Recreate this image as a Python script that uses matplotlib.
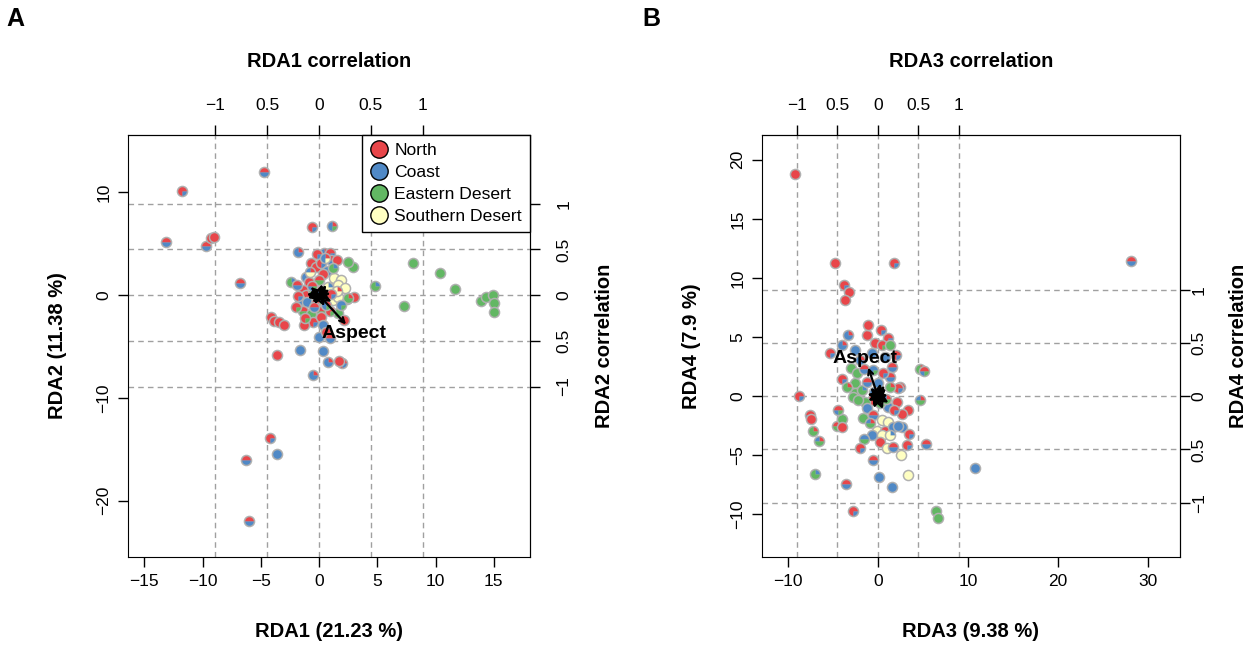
import numpy as np
import matplotlib.pyplot as plt
from matplotlib.lines import Line2D

plt.rcParams['font.family'] = ['Liberation Sans', 'DejaVu Sans']

groups = ['North', 'Coast', 'Eastern Desert', 'Southern Desert']
group_colors = ['#E8464A', '#5089C6', '#62B763', '#FFFFC2']

corr_ticks = [-1, -0.5, 0, 0.5, 1]
corr_labels = ['\u22121', '0.5', '0', '0.5', '1']

# site scores: x, y, then shares of North, Coast, Eastern Desert, Southern Desert
sites_a = np.array([
    (-11.8, 10.1, 3, 1, 0, 0), (-13.1, 5.2, 2, 2, 0, 0), (-9.7, 4.8, 2, 2, 0, 0),
    (-9.3, 5.6, 3, 1, 0, 0), (-9.0, 5.7, 4, 0, 0, 0), (-4.7, 12.0, 2, 2, 0, 0),
    (-6.8, 1.2, 2, 2, 0, 0), (-1.8, 4.2, 1, 3, 0, 0), (-2.4, 1.3, 0, 1, 3, 0),
    (-4.1, -2.1, 4, 0, 0, 0), (-3.9, -2.5, 4, 0, 0, 0), (-3.4, -2.6, 3, 1, 0, 0),
    (-3.0, -2.9, 4, 0, 0, 0), (-3.6, -5.8, 4, 0, 0, 0), (-1.6, -5.3, 0, 4, 0, 0),
    (-0.5, -7.8, 1, 3, 0, 0), (-4.2, -13.9, 3, 1, 0, 0), (-3.6, -15.5, 0, 4, 0, 0),
    (-6.3, -16.1, 2, 2, 0, 0), (-6.0, -22.0, 2, 2, 0, 0), (-0.6, 6.6, 3, 1, 0, 0),
    (1.1, 6.7, 1, 2, 1, 0), (2.9, 2.7, 0, 0, 4, 0), (8.1, 3.1, 0, 0, 4, 0),
    (10.4, 2.2, 0, 0, 4, 0), (4.8, 0.9, 0, 1, 3, 0), (11.7, 0.6, 0, 0, 4, 0),
    (7.3, -1.1, 0, 0, 4, 0), (13.9, -0.6, 0, 0, 4, 0), (14.3, -0.2, 0, 0, 4, 0),
    (14.9, 0.0, 0, 0, 4, 0), (15.0, -0.8, 0, 0, 4, 0), (15.0, -1.6, 0, 0, 4, 0),
    (3.0, -0.2, 4, 0, 0, 0), (2.4, -0.4, 1, 0, 3, 0), (1.6, -1.7, 0, 0, 4, 0),
    (2.1, -2.4, 4, 0, 0, 0), (0.8, -6.5, 1, 3, 0, 0), (2.0, -6.6, 3, 1, 0, 0),
    (1.7, -6.4, 4, 0, 0, 0), (0.0, -4.1, 0, 4, 0, 0), (0.3, -5.4, 0, 4, 0, 0),
    (0.4, 4.1, 1, 3, 0, 0), (0.9, 4.1, 3, 1, 0, 0), (-0.7, 3.1, 4, 0, 0, 0),
    (-0.3, 2.7, 4, 0, 0, 0), (0.2, 3.1, 3, 1, 0, 0), (1.0, 3.4, 2, 2, 0, 0),
    (1.5, 3.4, 4, 0, 0, 0), (0.7, 2.4, 0, 4, 0, 0), (0.3, 2.1, 4, 0, 0, 0),
    (1.3, 1.7, 0, 0, 0, 4), (1.9, 1.5, 0, 0, 0, 4), (1.6, 1.0, 0, 0, 0, 4),
    (2.2, 0.7, 0, 0, 0, 4), (-1.1, 1.8, 1, 3, 0, 0), (-0.9, 1.3, 4, 0, 0, 0),
    (0.0, 1.5, 2, 0, 2, 0), (-1.4, 0.5, 4, 0, 0, 0), (-1.1, 0.0, 4, 0, 0, 0),
    (-0.5, 0.5, 0, 0, 4, 0), (-1.6, -0.5, 2, 2, 0, 0), (-1.0, -0.7, 0, 4, 0, 0),
    (-0.3, -0.8, 4, 0, 0, 0), (0.4, -0.7, 0, 0, 4, 0), (1.2, -0.5, 0, 0, 0, 4),
    (1.6, -0.2, 0, 0, 0, 4), (2.5, -0.3, 1, 0, 3, 0), (-1.4, -1.5, 2, 0, 2, 0),
    (-0.7, -1.8, 0, 0, 4, 0), (0.2, -1.5, 2, 0, 2, 0), (0.9, -1.5, 3, 0, 1, 0),
    (-0.5, -2.6, 3, 1, 0, 0), (0.2, -2.1, 4, 0, 0, 0), (-1.3, -2.9, 4, 0, 0, 0),
    (0.3, -2.9, 0, 4, 0, 0), (0.6, -3.6, 4, 0, 0, 0), (0.9, -4.2, 2, 2, 0, 0),
    (2.5, 3.2, 0, 0, 4, 0), (1.2, 2.6, 0, 1, 3, 0), (-0.2, 4.0, 3, 1, 0, 0),
    (0.5, 3.6, 1, 2, 0, 1), (-1.9, 1.0, 2, 2, 0, 0), (-1.8, -0.1, 3, 1, 0, 0),
    (-0.8, 2.3, 1, 1, 0, 2), (0.8, 0.8, 0, 1, 0, 3), (1.5, 0.4, 1, 0, 0, 3),
    (-1.2, -2.2, 3, 0, 1, 0), (0.6, -1.0, 1, 2, 1, 0), (-0.4, -1.2, 2, 2, 0, 0),
    (1.9, -1.0, 0, 3, 1, 0), (-2.0, -1.2, 3, 0, 1, 0), (0.1, 0.4, 2, 2, 0, 0),
    (-0.6, 0.9, 2, 1, 1, 0), (1.0, 0.1, 3, 1, 0, 0),
])

sites_b = np.array([
    (-9.2, 18.8, 4, 0, 0, 0), (-4.8, 11.3, 4, 0, 0, 0), (1.8, 11.3, 3, 1, 0, 0),
    (-3.8, 9.4, 3, 1, 0, 0), (-3.2, 8.8, 4, 0, 0, 0), (-3.7, 8.1, 4, 0, 0, 0),
    (28.1, 11.4, 2, 2, 0, 0), (-8.8, 0.0, 3, 1, 0, 0), (-7.6, -1.6, 2, 2, 0, 0),
    (-7.4, -1.9, 4, 0, 0, 0), (-7.2, -2.9, 1, 0, 3, 0), (-6.6, -3.8, 1, 1, 2, 0),
    (-7.0, -6.6, 0, 1, 3, 0), (-4.6, -2.5, 2, 0, 2, 0), (-4.0, -1.9, 0, 0, 4, 0),
    (-4.0, -2.6, 4, 0, 0, 0), (-3.6, -7.4, 2, 2, 0, 0), (-2.8, -9.7, 3, 1, 0, 0),
    (-0.6, -5.4, 2, 2, 0, 0), (0.1, -6.8, 0, 4, 0, 0), (1.6, -7.7, 0, 4, 0, 0),
    (3.3, -6.7, 0, 0, 0, 4), (3.2, -4.1, 3, 1, 0, 0), (5.3, -4.0, 2, 2, 0, 0),
    (4.7, -0.3, 1, 1, 2, 0), (4.7, 2.3, 1, 0, 3, 0), (5.1, 2.1, 2, 1, 1, 0),
    (6.5, -9.7, 0, 0, 4, 0), (6.7, -10.3, 0, 0, 4, 0), (2.6, -5.0, 0, 0, 0, 4),
    (10.8, -6.1, 0, 4, 0, 0), (2.4, 0.8, 2, 2, 0, 0), (3.3, -1.2, 4, 0, 0, 0),
    (2.7, -1.5, 4, 0, 0, 0), (2.7, -2.6, 0, 4, 0, 0),
    (-1.2, 5.2, 4, 0, 0, 0), (1.1, 4.9, 3, 1, 0, 0), (-3.3, 5.2, 1, 3, 0, 0),
    (-4.0, 4.3, 1, 3, 0, 0), (-5.3, 3.7, 3, 1, 0, 0), (-0.3, 4.5, 4, 0, 0, 0),
    (0.4, 4.3, 3, 0, 1, 0), (1.3, 4.3, 0, 0, 4, 0), (-0.7, 3.7, 0, 4, 0, 0),
    (-2.0, 3.1, 1, 3, 0, 0), (0.8, 3.3, 0, 4, 0, 0), (1.6, 2.5, 2, 2, 0, 0),
    (-4.0, 1.5, 3, 1, 0, 0), (-2.6, 1.1, 0, 0, 4, 0), (-2.6, 0.3, 0, 0, 4, 0),
    (-1.8, 0.5, 0, 1, 3, 0), (-1.2, 1.2, 2, 2, 0, 0), (0.0, 1.1, 0, 4, 0, 0),
    (1.3, 1.6, 2, 2, 0, 0), (2.2, 0.7, 3, 1, 0, 0), (1.3, 0.8, 1, 0, 3, 0),
    (2.1, -0.5, 4, 0, 0, 0), (1.1, -0.9, 0, 4, 0, 0), (0.2, -0.6, 0, 0, 4, 0),
    (-0.7, -0.3, 4, 0, 0, 0), (-1.4, -0.5, 0, 0, 4, 0), (-1.2, -1.0, 0, 4, 0, 0),
    (-1.7, -1.8, 0, 0, 4, 0), (-0.6, -1.6, 2, 2, 0, 0), (0.4, -2.0, 0, 0, 0, 4),
    (1.1, -2.2, 0, 0, 0, 4), (-0.1, -2.9, 0, 0, 0, 4), (0.8, -2.9, 2, 2, 0, 0),
    (1.7, -2.6, 0, 4, 0, 0), (2.2, -2.5, 0, 4, 0, 0), (-0.7, -3.3, 0, 4, 0, 0),
    (0.4, -3.3, 0, 0, 0, 4), (1.3, -3.3, 0, 1, 0, 3), (0.2, -3.9, 4, 0, 0, 0),
    (1.0, -4.4, 0, 0, 0, 4), (1.7, -4.3, 2, 2, 0, 0), (-2.8, -0.1, 0, 0, 4, 0),
    (-2.2, -0.3, 0, 0, 4, 0), (-1.1, 6.0, 4, 0, 0, 0), (-3.0, 2.4, 0, 0, 4, 0),
    (-2.3, 2.0, 0, 0, 4, 0), (-1.5, 2.3, 2, 2, 0, 0), (-0.5, 2.2, 0, 3, 1, 0),
    (0.6, 2.0, 3, 1, 0, 0), (-3.4, 0.8, 1, 0, 3, 0), (-0.4, 0.4, 1, 2, 1, 0),
    (0.9, -0.2, 1, 1, 2, 0), (1.8, -1.2, 3, 1, 0, 0), (-0.9, -2.3, 1, 1, 2, 0),
    (2.0, 3.5, 3, 1, 0, 0), (-2.5, 3.9, 0, 4, 0, 0), (0.3, 5.6, 3, 1, 0, 0),
    (-4.4, -1.2, 2, 1, 1, 0), (3.5, -3.2, 3, 1, 0, 0), (-1.6, -3.6, 0, 2, 2, 0),
    (-2.0, -4.4, 3, 1, 0, 0),
])

# environmental correlations (first one is Aspect)
env_a_x = [0.26, 0.10, -0.08, 0.05, -0.11, 0.12, -0.04, 0.07, -0.09, 0.03, 0.11, -0.06, 0.08, -0.12, 0.02]
env_a_y = [-0.32, 0.06, 0.09, -0.12, -0.03, -0.07, -0.10, 0.11, 0.04, 0.12, 0.02, -0.08, -0.04, 0.01, -0.06]
env_b_x = [-0.12, 0.10, -0.09, 0.06, -0.12, 0.13, -0.05, 0.08, -0.10, 0.03, 0.12, -0.06, 0.09, -0.13, 0.02]
env_b_y = [0.27, 0.07, 0.08, -0.12, -0.04, -0.06, -0.11, 0.10, 0.03, 0.12, 0.01, -0.09, -0.05, 0.02, -0.07]
env_label = 'Aspect'


def draw_pies(ax, sites, size=38):
    x, y = sites[:, 0], sites[:, 1]
    shares = sites[:, 2:] / sites[:, 2:].sum(axis=1, keepdims=True)
    for i in range(len(sites)):
        z = 3 + i * 0.01
        ax.scatter(x[i], y[i], s=70, color='#B0B0B0', lw=0, zorder=z)
        start = 0.0
        for g in range(4):
            frac = shares[i, g]
            if frac <= 0:
                continue
            if frac > 0.999:
                ax.scatter(x[i], y[i], s=size, color=group_colors[g], lw=0, zorder=z + 0.001)
                break
            theta = np.linspace(2 * np.pi * start, 2 * np.pi * (start + frac), 30)
            verts = np.column_stack([np.r_[0, np.cos(theta), 0], np.r_[0, np.sin(theta), 0]])
            k = np.abs(verts).max()
            ax.scatter(x[i], y[i], marker=verts, s=size * k ** 2, color=group_colors[g],
                       lw=0, zorder=z + 0.001)
            start += frac


def draw_env(ax, ex, ey, scale):
    for cx, cy in zip(ex, ey):
        ax.annotate('', xy=(cx * scale, cy * scale), xytext=(0, 0), zorder=6,
                    arrowprops=dict(arrowstyle='->', color='black', lw=1.6,
                                    shrinkA=0, shrinkB=0, mutation_scale=9))
    ax.text(ex[0] * scale * 1.3, ey[0] * scale * 1.3, env_label, fontsize=14,
            fontweight='bold', ha='center', va='center', zorder=7)


def setup(ax, xlim, ylim, xticks, yticks, scale, xlabel, ylabel, xcorr, ycorr, rpad, rlabpad):
    ax.set_xlim(xlim)
    ax.set_ylim(ylim)
    ax.set_xticks(xticks)
    ax.set_yticks(yticks)
    ax.tick_params(direction='out', length=7, width=1, labelsize=12.5, pad=5)
    ax.tick_params(axis='y', labelrotation=90)
    for lab in ax.get_yticklabels():
        lab.set_va('center')
    for c in corr_ticks:
        ax.axvline(c * scale, ls=(0, (4, 3)), color='#A0A0A0', lw=1, zorder=1)
        ax.axhline(c * scale, ls=(0, (4, 3)), color='#A0A0A0', lw=1, zorder=1)
    ax.set_xlabel(xlabel, fontsize=14.5, fontweight='bold', labelpad=24)
    ax.set_ylabel(ylabel, fontsize=14.5, fontweight='bold', labelpad=21)

    top = ax.secondary_xaxis('top', functions=(lambda v: v / scale, lambda v: v * scale))
    top.set_xticks(corr_ticks, labels=corr_labels)
    top.tick_params(direction='out', length=7, width=1, labelsize=12.5, pad=9)
    top.set_xlabel(xcorr, fontsize=14.5, fontweight='bold', labelpad=22)

    right = ax.secondary_yaxis('right', functions=(lambda v: v / scale, lambda v: v * scale))
    right.set_yticks(corr_ticks, labels=corr_labels)
    right.tick_params(direction='out', length=7, width=1, labelsize=12.5, pad=rpad,
                      labelrotation=90)
    for lab in right.get_yticklabels():
        lab.set_va('center')
    right.set_ylabel(ycorr, fontsize=14.5, fontweight='bold', labelpad=rlabpad)


fig = plt.figure(figsize=(12.52, 6.48), dpi=100)
ax_a = fig.add_axes([0.1022, 0.1404, 0.3211, 0.6513])
ax_b = fig.add_axes([0.6086, 0.1404, 0.3339, 0.6513])

scale_a = 8.9
scale_b = 9.0

setup(ax_a, (-16.4, 18.1), (-25.5, 15.6), [-15, -10, -5, 0, 5, 10, 15], [-20, -10, 0, 10],
      scale_a, 'RDA1 (21.23 %)', 'RDA2 (11.38 %)', 'RDA1 correlation', 'RDA2 correlation',
      12, 17)
setup(ax_b, (-12.9, 33.6), (-13.6, 22.1), [-10, 0, 10, 20, 30], [-10, -5, 0, 5, 10, 15, 20],
      scale_b, 'RDA3 (9.38 %)', 'RDA4 (7.9 %)', 'RDA3 correlation', 'RDA4 correlation',
      1.5, 16)

draw_pies(ax_a, sites_a)
draw_pies(ax_b, sites_b)
draw_env(ax_a, env_a_x, env_a_y, scale_a)
draw_env(ax_b, env_b_x, env_b_y, scale_b)

handles = [Line2D([], [], ls='none', marker='o', markersize=12.5, markerfacecolor=c,
                  markeredgecolor='black', markeredgewidth=1) for c in group_colors]
leg = ax_a.legend(handles, groups, loc='upper right', borderaxespad=0, fontsize=12.6,
                  fancybox=False, framealpha=1, edgecolor='black', handlelength=1,
                  handletextpad=0.4, labelspacing=0.38, borderpad=0.45)
leg.set_zorder(10)
leg.get_frame().set_linewidth(1)

fig.text(0.005, 0.97, 'A', fontsize=18, fontweight='bold', va='center')
fig.text(0.513, 0.97, 'B', fontsize=18, fontweight='bold', va='center')

fig.savefig('out.png', dpi=100)
